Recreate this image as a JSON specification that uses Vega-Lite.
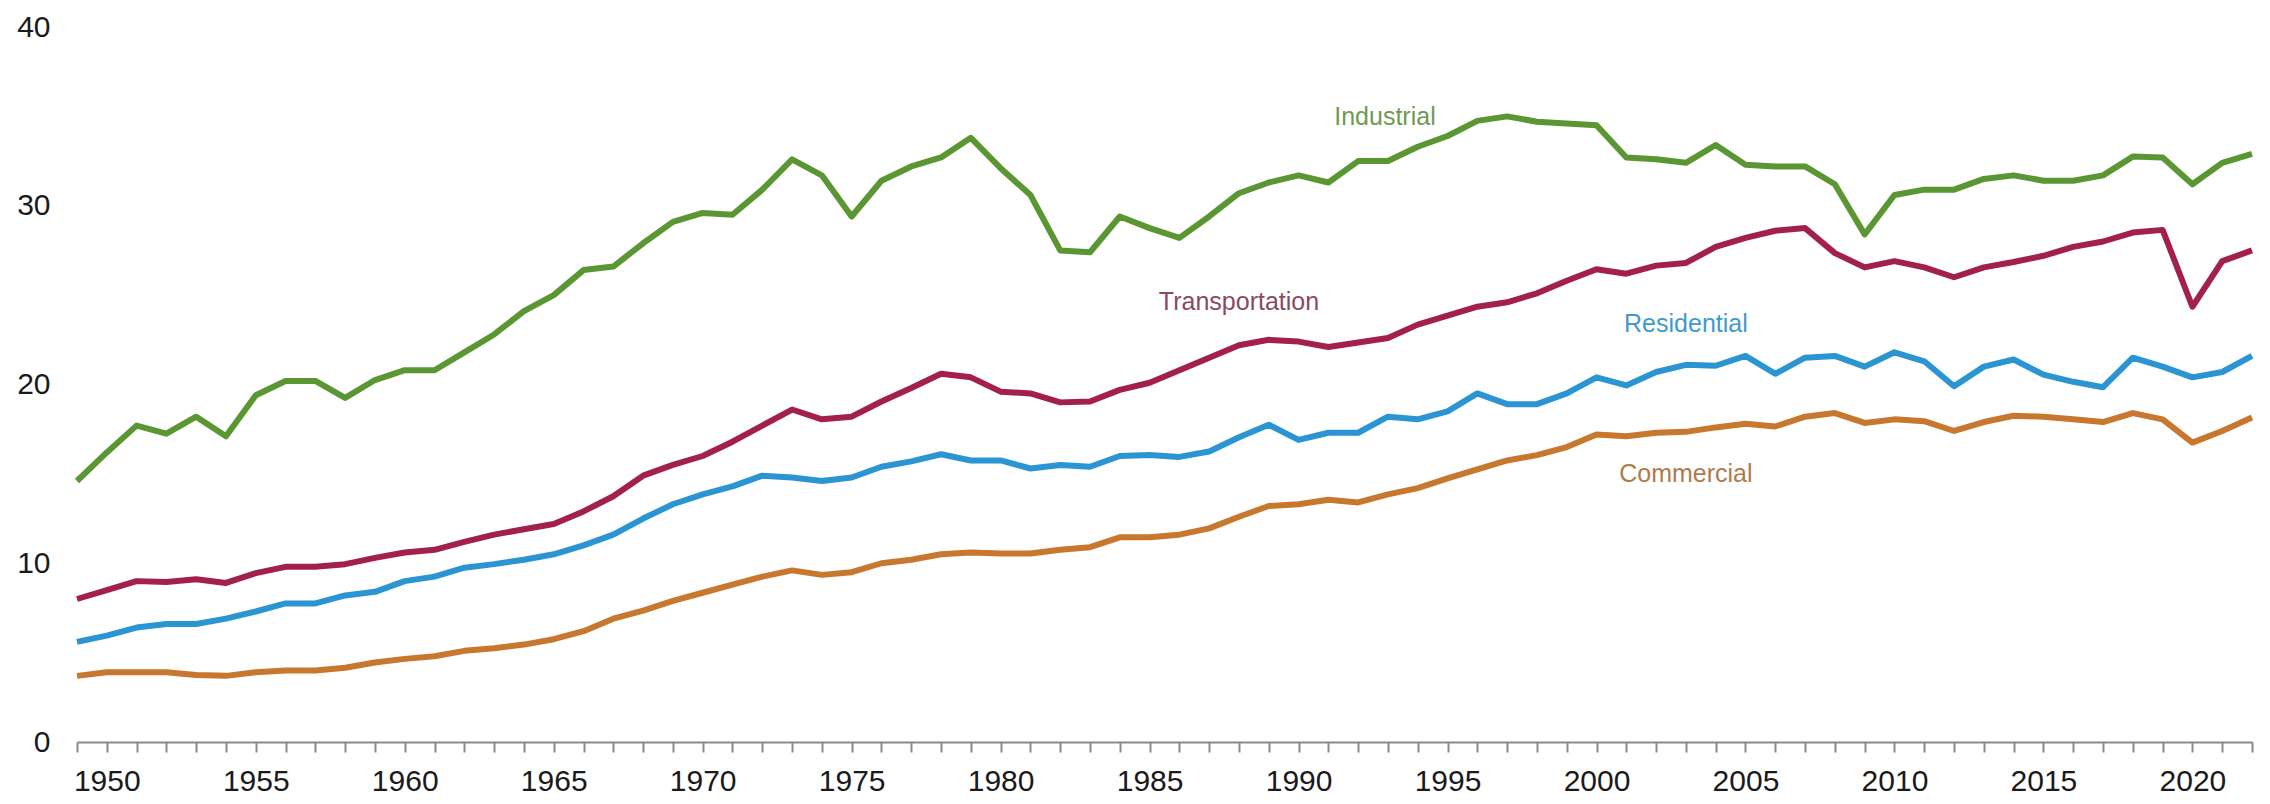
{
  "$schema": "https://vega.github.io/schema/vega-lite/v6.json",
  "width": 2175,
  "height": 715,
  "autosize": {"type": "none"},
  "padding": {"left": 77, "top": 27, "right": 18, "bottom": 62},
  "background": "white",
  "config": {"view": {"stroke": null}, "font": "Liberation Sans"},
  "layer": [
    {
      "data": {"values": [
        {"year":1949,"Industrial":14.6,"Transportation":8.0,"Residential":5.6,"Commercial":3.7},
        {"year":1950,"Industrial":16.2,"Transportation":8.5,"Residential":5.95,"Commercial":3.9},
        {"year":1951,"Industrial":17.7,"Transportation":9.0,"Residential":6.4,"Commercial":3.9},
        {"year":1952,"Industrial":17.25,"Transportation":8.95,"Residential":6.6,"Commercial":3.9},
        {"year":1953,"Industrial":18.2,"Transportation":9.1,"Residential":6.6,"Commercial":3.75},
        {"year":1954,"Industrial":17.1,"Transportation":8.9,"Residential":6.9,"Commercial":3.7},
        {"year":1955,"Industrial":19.4,"Transportation":9.45,"Residential":7.3,"Commercial":3.9},
        {"year":1956,"Industrial":20.2,"Transportation":9.8,"Residential":7.75,"Commercial":4.0},
        {"year":1957,"Industrial":20.2,"Transportation":9.8,"Residential":7.75,"Commercial":4.0},
        {"year":1958,"Industrial":19.25,"Transportation":9.95,"Residential":8.2,"Commercial":4.15},
        {"year":1959,"Industrial":20.25,"Transportation":10.3,"Residential":8.4,"Commercial":4.45},
        {"year":1960,"Industrial":20.8,"Transportation":10.6,"Residential":9.0,"Commercial":4.65},
        {"year":1961,"Industrial":20.8,"Transportation":10.75,"Residential":9.25,"Commercial":4.8},
        {"year":1962,"Industrial":21.8,"Transportation":11.2,"Residential":9.75,"Commercial":5.1},
        {"year":1963,"Industrial":22.8,"Transportation":11.6,"Residential":9.95,"Commercial":5.25},
        {"year":1964,"Industrial":24.1,"Transportation":11.9,"Residential":10.2,"Commercial":5.45},
        {"year":1965,"Industrial":25.0,"Transportation":12.2,"Residential":10.5,"Commercial":5.75},
        {"year":1966,"Industrial":26.4,"Transportation":12.9,"Residential":11.0,"Commercial":6.2},
        {"year":1967,"Industrial":26.6,"Transportation":13.75,"Residential":11.6,"Commercial":6.9},
        {"year":1968,"Industrial":27.9,"Transportation":14.9,"Residential":12.5,"Commercial":7.35},
        {"year":1969,"Industrial":29.1,"Transportation":15.5,"Residential":13.3,"Commercial":7.9},
        {"year":1970,"Industrial":29.6,"Transportation":16.0,"Residential":13.85,"Commercial":8.35},
        {"year":1971,"Industrial":29.5,"Transportation":16.8,"Residential":14.3,"Commercial":8.8},
        {"year":1972,"Industrial":30.9,"Transportation":17.7,"Residential":14.9,"Commercial":9.25},
        {"year":1973,"Industrial":32.6,"Transportation":18.6,"Residential":14.8,"Commercial":9.6},
        {"year":1974,"Industrial":31.7,"Transportation":18.05,"Residential":14.6,"Commercial":9.35},
        {"year":1975,"Industrial":29.4,"Transportation":18.2,"Residential":14.8,"Commercial":9.5},
        {"year":1976,"Industrial":31.4,"Transportation":19.05,"Residential":15.4,"Commercial":10.0},
        {"year":1977,"Industrial":32.2,"Transportation":19.8,"Residential":15.7,"Commercial":10.2},
        {"year":1978,"Industrial":32.7,"Transportation":20.6,"Residential":16.1,"Commercial":10.5},
        {"year":1979,"Industrial":33.8,"Transportation":20.4,"Residential":15.75,"Commercial":10.6},
        {"year":1980,"Industrial":32.1,"Transportation":19.6,"Residential":15.75,"Commercial":10.55},
        {"year":1981,"Industrial":30.6,"Transportation":19.5,"Residential":15.3,"Commercial":10.55},
        {"year":1982,"Industrial":27.5,"Transportation":19.0,"Residential":15.5,"Commercial":10.75},
        {"year":1983,"Industrial":27.4,"Transportation":19.05,"Residential":15.4,"Commercial":10.9},
        {"year":1984,"Industrial":29.4,"Transportation":19.7,"Residential":16.0,"Commercial":11.45},
        {"year":1985,"Industrial":28.75,"Transportation":20.1,"Residential":16.05,"Commercial":11.45},
        {"year":1986,"Industrial":28.2,"Transportation":20.8,"Residential":15.95,"Commercial":11.6},
        {"year":1987,"Industrial":29.4,"Transportation":21.5,"Residential":16.25,"Commercial":11.95},
        {"year":1988,"Industrial":30.7,"Transportation":22.2,"Residential":17.05,"Commercial":12.6},
        {"year":1989,"Industrial":31.3,"Transportation":22.5,"Residential":17.75,"Commercial":13.2},
        {"year":1990,"Industrial":31.7,"Transportation":22.4,"Residential":16.9,"Commercial":13.3},
        {"year":1991,"Industrial":31.3,"Transportation":22.1,"Residential":17.3,"Commercial":13.55},
        {"year":1992,"Industrial":32.5,"Transportation":22.35,"Residential":17.3,"Commercial":13.4},
        {"year":1993,"Industrial":32.5,"Transportation":22.6,"Residential":18.2,"Commercial":13.85},
        {"year":1994,"Industrial":33.3,"Transportation":23.35,"Residential":18.05,"Commercial":14.2},
        {"year":1995,"Industrial":33.9,"Transportation":23.85,"Residential":18.5,"Commercial":14.75},
        {"year":1996,"Industrial":34.75,"Transportation":24.35,"Residential":19.5,"Commercial":15.25},
        {"year":1997,"Industrial":35.0,"Transportation":24.6,"Residential":18.9,"Commercial":15.75},
        {"year":1998,"Industrial":34.7,"Transportation":25.1,"Residential":18.9,"Commercial":16.05},
        {"year":1999,"Industrial":34.6,"Transportation":25.8,"Residential":19.5,"Commercial":16.5},
        {"year":2000,"Industrial":34.5,"Transportation":26.45,"Residential":20.4,"Commercial":17.2},
        {"year":2001,"Industrial":32.7,"Transportation":26.2,"Residential":19.95,"Commercial":17.1},
        {"year":2002,"Industrial":32.6,"Transportation":26.65,"Residential":20.7,"Commercial":17.3},
        {"year":2003,"Industrial":32.4,"Transportation":26.8,"Residential":21.1,"Commercial":17.35},
        {"year":2004,"Industrial":33.4,"Transportation":27.7,"Residential":21.05,"Commercial":17.6},
        {"year":2005,"Industrial":32.3,"Transportation":28.2,"Residential":21.6,"Commercial":17.8},
        {"year":2006,"Industrial":32.2,"Transportation":28.6,"Residential":20.6,"Commercial":17.65},
        {"year":2007,"Industrial":32.2,"Transportation":28.75,"Residential":21.5,"Commercial":18.2},
        {"year":2008,"Industrial":31.2,"Transportation":27.35,"Residential":21.6,"Commercial":18.4},
        {"year":2009,"Industrial":28.4,"Transportation":26.55,"Residential":21.0,"Commercial":17.85},
        {"year":2010,"Industrial":30.6,"Transportation":26.9,"Residential":21.8,"Commercial":18.05},
        {"year":2011,"Industrial":30.9,"Transportation":26.55,"Residential":21.3,"Commercial":17.95},
        {"year":2012,"Industrial":30.9,"Transportation":26.0,"Residential":19.9,"Commercial":17.4},
        {"year":2013,"Industrial":31.5,"Transportation":26.55,"Residential":21.0,"Commercial":17.9},
        {"year":2014,"Industrial":31.7,"Transportation":26.85,"Residential":21.4,"Commercial":18.25},
        {"year":2015,"Industrial":31.4,"Transportation":27.2,"Residential":20.55,"Commercial":18.2},
        {"year":2016,"Industrial":31.4,"Transportation":27.7,"Residential":20.15,"Commercial":18.05},
        {"year":2017,"Industrial":31.7,"Transportation":28.0,"Residential":19.85,"Commercial":17.9},
        {"year":2018,"Industrial":32.75,"Transportation":28.5,"Residential":21.5,"Commercial":18.4},
        {"year":2019,"Industrial":32.7,"Transportation":28.65,"Residential":21.0,"Commercial":18.05},
        {"year":2020,"Industrial":31.2,"Transportation":24.35,"Residential":20.4,"Commercial":16.75},
        {"year":2021,"Industrial":32.4,"Transportation":26.9,"Residential":20.7,"Commercial":17.4},
        {"year":2022,"Industrial":32.9,"Transportation":27.5,"Residential":21.6,"Commercial":18.15}
      ]},
      "transform": [{"fold": ["Industrial", "Transportation", "Residential", "Commercial"], "as": ["sector", "value"]}],
      "mark": {"type": "line", "strokeWidth": 6, "strokeJoin": "round"},
      "encoding": {
        "x": {
          "field": "year", "type": "quantitative",
          "scale": {"domain": [1949, 2022], "nice": false, "zero": false},
          "axis": {
            "title": null, "grid": false,
            "tickCount": 200,
            "values": [1949,1950,1951,1952,1953,1954,1955,1956,1957,1958,1959,1960,1961,1962,1963,1964,1965,1966,1967,1968,1969,1970,1971,1972,1973,1974,1975,1976,1977,1978,1979,1980,1981,1982,1983,1984,1985,1986,1987,1988,1989,1990,1991,1992,1993,1994,1995,1996,1997,1998,1999,2000,2001,2002,2003,2004,2005,2006,2007,2008,2009,2010,2011,2012,2013,2014,2015,2016,2017,2018,2019,2020,2021,2022],
            "format": "d",
            "labelExpr": "datum.value % 5 === 0 ? datum.label : ''",
            "labelOverlap": false, "labelFlush": false,
            "domainColor": "#8a8a8a", "domainWidth": 2,
            "tickColor": "#8a8a8a", "tickWidth": 2, "tickSize": 10,
            "labelFontSize": 30, "labelColor": "#1a1a1a", "labelPadding": 14
          }
        },
        "y": {
          "field": "value", "type": "quantitative",
          "scale": {"domain": [0, 40], "nice": false},
          "axis": {
            "title": null, "grid": false, "domain": false, "ticks": false,
            "values": [0, 10, 20, 30, 40],
            "labelFontSize": 30, "labelColor": "#1a1a1a", "labelPadding": 27
          }
        },
        "color": {
          "field": "sector", "type": "nominal",
          "scale": {"domain": ["Industrial", "Transportation", "Residential", "Commercial"], "range": ["#5a9632", "#a3204c", "#2b95d3", "#c8772e"]},
          "legend": null
        }
      }
    },
    {
      "data": {"values": [
        {"label": "Industrial", "x": 1992.9, "y": 34.95},
        {"label": "Transportation", "x": 1988.0, "y": 24.6},
        {"label": "Residential", "x": 2003.0, "y": 23.4},
        {"label": "Commercial", "x": 2003.0, "y": 15.0}
      ]},
      "mark": {"type": "text", "fontSize": 25, "font": "Liberation Sans", "baseline": "middle", "align": "center"},
      "encoding": {
        "x": {"field": "x", "type": "quantitative"},
        "y": {"field": "y", "type": "quantitative"},
        "text": {"field": "label"},
        "color": {
          "field": "label", "type": "nominal",
          "scale": {"domain": ["Industrial", "Transportation", "Residential", "Commercial"], "range": ["#6f9a52", "#8a4a62", "#3f9bcc", "#b07a4c"]},
          "legend": null
        }
      }
    }
  ],
  "resolve": {"scale": {"color": "independent"}}
}
